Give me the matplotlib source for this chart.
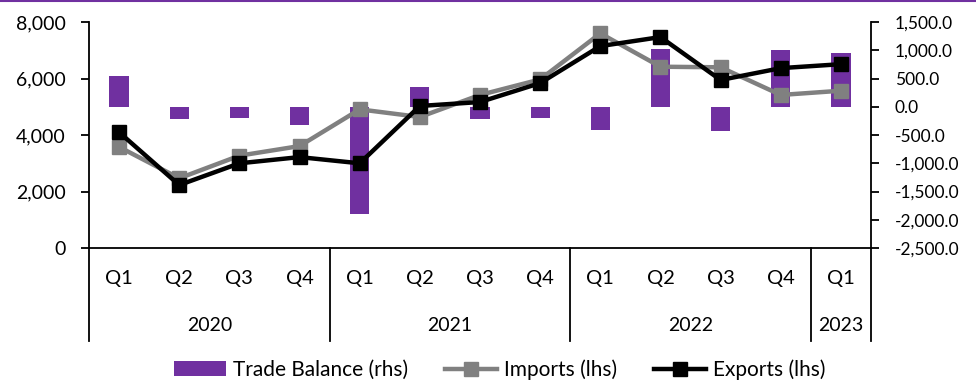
import numpy as np
import matplotlib.pyplot as plt
import matplotlib.ticker as mticker
from matplotlib.lines import Line2D
from matplotlib.patches import Patch

plt.rcParams['font.family'] = ['Lato', 'DejaVu Sans']

# data
quarters = ['Q1', 'Q2', 'Q3', 'Q4', 'Q1', 'Q2', 'Q3', 'Q4', 'Q1', 'Q2', 'Q3', 'Q4', 'Q1']
years = ['2020', '2021', '2022', '2023']
year_span = [4, 4, 4, 1]
trade_balance = [550, -220, -200, -330, -1900, 350, -210, -190, -410, 1020, -420, 1000, 950]
imports = [3580, 2470, 3270, 3610, 4910, 4640, 5420, 5970, 7600, 6420, 6400, 5420, 5570]
exports = [4100, 2230, 3000, 3220, 3000, 5030, 5170, 5840, 7150, 7470, 5950, 6370, 6510]

purple = '#7030A0'
grey = '#808080'

fig = plt.figure(figsize=(9.76, 3.81), dpi=100)
ax = fig.add_axes([0.0912, 0.349, 0.8012, 0.593])
ax2 = ax.twinx()

x = np.arange(len(quarters))

# bars on the right axis, lines on top
ax2.bar(x, trade_balance, width=0.32, color=purple, zorder=1)
ax.set_zorder(ax2.get_zorder() + 1)
ax.patch.set_visible(False)

ax.plot(x, imports, color=grey, lw=3.2, marker='s', ms=9.5, zorder=3)
ax.plot(x, exports, color='black', lw=3.2, marker='s', ms=9.5, zorder=4)

ax.set_xlim(-0.5, len(quarters) - 0.5)
ax.set_ylim(0, 8000)
ax.set_yticks(np.arange(0, 8001, 2000))
ax.yaxis.set_major_formatter(mticker.FuncFormatter(lambda v, p: f'{v:,.0f}'))
ax2.set_ylim(-2500, 1500)
ax2.set_yticks(np.arange(-2500, 1501, 500))
ax2.yaxis.set_major_formatter(mticker.FuncFormatter(lambda v, p: f'{v:,.1f}'))

for a in (ax, ax2):
    a.spines['top'].set_visible(False)
    for s in a.spines.values():
        s.set_linewidth(1.3)
ax.spines['right'].set_visible(False)
ax2.spines['left'].set_visible(False)
ax2.spines['bottom'].set_visible(False)

ax.tick_params(axis='y', direction='out', length=6, width=1.3, labelsize=14, pad=11)
ax2.tick_params(axis='y', direction='out', length=6, width=1.3, labelsize=12.5, pad=11)

ax.set_xticks(x)
ax.set_xticklabels(quarters, fontsize=14.5)
ax.tick_params(axis='x', length=0, pad=16)

# year groups below the quarter labels
sep_depth = -0.41
bounds = np.concatenate([[0], np.cumsum(year_span)]) - 0.5
for b in bounds:
    ax.add_line(Line2D([b, b], [0, sep_depth], transform=ax.get_xaxis_transform(),
                       color='black', lw=1.3, clip_on=False))
for i, yr in enumerate(years):
    mid = (bounds[i] + bounds[i + 1]) / 2
    ax.text(mid, -0.345, yr, transform=ax.get_xaxis_transform(),
            ha='center', va='center', fontsize=14)

# thin purple rule at the top of the figure
fig.add_artist(Line2D([0, 1], [0.997, 0.997], transform=fig.transFigure, color=purple, lw=1.5))

handles = [
    Patch(facecolor=purple, edgecolor='none'),
    Line2D([], [], color=grey, lw=3.2, marker='s', ms=9.5),
    Line2D([], [], color='black', lw=3.2, marker='s', ms=9.5),
]
fig.legend(handles, ['Trade Balance (rhs)', 'Imports (lhs)', 'Exports (lhs)'],
           loc='center', bbox_to_anchor=(0.512, 0.03), ncol=3, frameon=False,
           fontsize=15, handlelength=2.5, handletextpad=0.3, columnspacing=1.8)

fig.savefig('out.png', dpi=100)
